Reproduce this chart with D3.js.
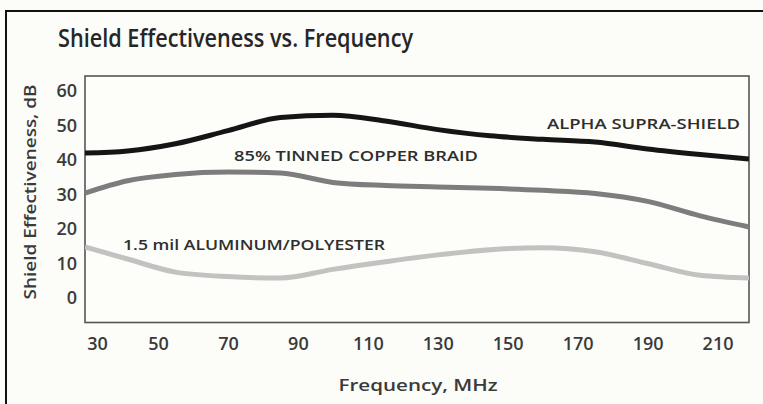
<!DOCTYPE html>
<html>
<head>
<meta charset="utf-8">
<script src="https://cdn.jsdelivr.net/npm/d3@7"></script>
<style>
  html, body { margin: 0; padding: 0; background: #fcfcf8; }
  svg { display: block; }
</style>
</head>
<body>
<script>
// ---- data ----
const title = "Shield Effectiveness vs. Frequency";
const xLabel = "Frequency, MHz";
const yLabel = "Shield Effectiveness, dB";
const xTicks = [30, 50, 70, 90, 110, 130, 150, 170, 190, 210];
const yTicks = [0, 10, 20, 30, 40, 50, 60];
const freqs = [26, 40, 55, 70, 85, 100, 115, 130, 145, 160, 175, 190, 205, 219];
const alphaSupraShield = [42.0, 42.6, 44.7, 48.5, 52.3, 53.0, 51.3, 48.8, 47.0, 46.0, 45.2, 43.2, 41.6, 40.3];
const tinnedCopperBraid = [30.4, 34.0, 35.8, 36.5, 36.2, 33.5, 32.6, 32.2, 31.8, 31.2, 30.3, 28.0, 23.8, 20.6];
const aluminumPolyester = [14.8, 11.3, 7.5, 6.2, 5.8, 8.3, 10.5, 12.5, 14.0, 14.6, 13.4, 10.0, 6.6, 5.8];
const seriesNames = ["ALPHA SUPRA-SHIELD", "85% TINNED COPPER BRAID", "1.5 mil ALUMINUM/POLYESTER"];

const W = 763, H = 404;
const plot = { left: 85, top: 76, right: 749, bottom: 322.5 };

const svg = d3.select("body").append("svg").attr("width", W).attr("height", H);
svg.append("rect").attr("width", W).attr("height", H).attr("fill", "#fcfcf8");

// outer frame (top and left edge)
svg.append("path").attr("d", `M6,${H} L6,11 L${W},11`).attr("fill", "none")
  .attr("stroke", "#111").attr("stroke-width", 2);

// scales (tick labels in the source are not evenly spaced at the low end)
const x = d3.scaleLinear().domain([26, 30, 50, 219]).range([plot.left, 97, 158, plot.right]);
const y = d3.scaleLinear().domain([0, 60]).range([298, 91]);

const font = "'Open Sans', 'DejaVu Sans', sans-serif";

// title
svg.append("text").attr("x", 58).attr("y", 47)
  .attr("font-family", font).attr("font-weight", 600)
  .attr("font-size", 25.5).attr("fill", "#262626")
  .attr("textLength", 355).attr("lengthAdjust", "spacingAndGlyphs")
  .text(title);

// plot frame
svg.append("rect").attr("x", plot.left).attr("y", plot.top)
  .attr("width", plot.right - plot.left).attr("height", plot.bottom - plot.top)
  .attr("fill", "#fdfdfa").attr("stroke", "#555").attr("stroke-width", 1.6);

// axes
const xAxis = d3.axisBottom(x).tickValues(xTicks).tickSize(0).tickPadding(0);
const gx = svg.append("g").attr("transform", `translate(0,${337})`).call(xAxis);
gx.select(".domain").remove();
gx.selectAll("text").attr("font-family", font).attr("font-weight", 600)
  .attr("font-size", 18).attr("fill", "#3a3a3a").attr("dy", "0.71em");

const yAxis = d3.axisLeft(y).tickValues(yTicks).tickSize(0).tickPadding(0);
const gy = svg.append("g").attr("transform", `translate(${77},0)`).call(yAxis);
gy.select(".domain").remove();
gy.selectAll("text").attr("font-family", font).attr("font-weight", 600)
  .attr("font-size", 18).attr("fill", "#3a3a3a");

// axis titles
svg.append("text").attr("x", 418).attr("y", 391).attr("text-anchor", "middle")
  .attr("font-family", font).attr("font-weight", 600).attr("font-size", 17)
  .attr("fill", "#3a3a3a").attr("textLength", 159).attr("lengthAdjust", "spacingAndGlyphs")
  .text(xLabel);
svg.append("text").attr("transform", "translate(36,192) rotate(-90)").attr("text-anchor", "middle")
  .attr("font-family", font).attr("font-weight", 600).attr("font-size", 17)
  .attr("fill", "#3a3a3a").attr("textLength", 215).attr("lengthAdjust", "spacingAndGlyphs")
  .text(yLabel);

// lines
const line = d3.line().x(d => x(d[0])).y(d => y(d[1])).curve(d3.curveMonotoneX);
const series = [
  { values: aluminumPolyester, color: "#c2c2c0" },
  { values: tinnedCopperBraid, color: "#7d7d7d" },
  { values: alphaSupraShield, color: "#151515" }
];
svg.append("clipPath").attr("id", "clip").append("rect")
  .attr("x", plot.left).attr("y", plot.top)
  .attr("width", plot.right - plot.left).attr("height", plot.bottom - plot.top);
svg.append("g").attr("clip-path", "url(#clip)").selectAll("path").data(series).join("path")
  .attr("d", s => line(freqs.map((f, i) => [f, s.values[i]])))
  .attr("fill", "none").attr("stroke", s => s.color).attr("stroke-width", 5)
  .attr("stroke-linecap", "butt");

// series labels
const labels = [
  { text: seriesNames[0], x: 547, y: 129, w: 193 },
  { text: seriesNames[1], x: 234, y: 161, w: 244 },
  { text: seriesNames[2], x: 123, y: 250, w: 262 }
];
svg.append("g").selectAll("text").data(labels).join("text")
  .attr("x", d => d.x).attr("y", d => d.y)
  .attr("font-family", font).attr("font-weight", 600).attr("font-size", 14)
  .attr("fill", "#2e2e2e").attr("textLength", d => d.w).attr("lengthAdjust", "spacingAndGlyphs")
  .text(d => d.text);
</script>
</body>
</html>
